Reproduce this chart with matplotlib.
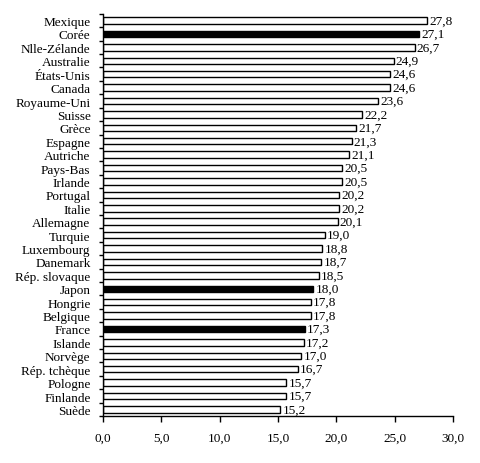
import matplotlib
matplotlib.use("Agg")
import matplotlib.pyplot as plt
import matplotlib.ticker as mticker

countries = ["Mexique", "Corée", "Nlle-Zélande", "Australie", "États-Unis",
             "Canada", "Royaume-Uni", "Suisse", "Grèce", "Espagne",
             "Autriche", "Pays-Bas", "Irlande", "Portugal", "Italie",
             "Allemagne", "Turquie", "Luxembourg", "Danemark", "Rép. slovaque",
             "Japon", "Hongrie", "Belgique", "France", "Islande",
             "Norvège", "Rép. tchèque", "Pologne", "Finlande", "Suède"]
values = [27.8, 27.1, 26.7, 24.9, 24.6, 24.6, 23.6, 22.2, 21.7, 21.3,
          21.1, 20.5, 20.5, 20.2, 20.2, 20.1, 19.0, 18.8, 18.7, 18.5,
          18.0, 17.8, 17.8, 17.3, 17.2, 17.0, 16.7, 15.7, 15.7, 15.2]
highlight = ["Corée", "Japon", "France"]
x_ticks = [0, 5, 10, 15, 20, 25, 30]


def comma_fmt(x, pos):
    return f"{x:.1f}".replace(".", ",")


def main():
    plt.rcParams['font.family'] = ['Liberation Serif', 'DejaVu Serif']
    fig = plt.figure(figsize=(4.8, 4.64), dpi=100)
    ax = fig.add_axes([0.2146, 0.101, 0.7292, 0.867])

    n = len(countries)
    ypos = list(range(n))
    colors = ["black" if c in highlight else "white" for c in countries]
    ax.barh(ypos, values, height=0.48, color=colors, edgecolor="black",
            linewidth=1.0)
    for y, v in zip(ypos, values):
        ax.text(v + 0.2, y, comma_fmt(v, None), va="center", ha="left",
                fontsize=9.5)

    ax.set_ylim(n - 0.5, -0.5)
    ax.set_xlim(0, 30)
    ax.set_yticks(ypos)
    ax.set_yticklabels(countries, fontsize=9.5)
    ax.set_yticks([i - 0.5 for i in range(n + 1)], minor=True)
    ax.tick_params(axis="y", which="major", length=0, pad=9)
    ax.tick_params(axis="y", which="minor", length=3, width=1)
    ax.set_xticks(x_ticks)
    ax.xaxis.set_major_formatter(mticker.FuncFormatter(comma_fmt))
    ax.tick_params(axis="x", length=4, width=1, pad=7, labelsize=9.5)
    for s in ["top", "right"]:
        ax.spines[s].set_visible(False)
    for s in ["left", "bottom"]:
        ax.spines[s].set_linewidth(1.0)

    fig.savefig("out.png", dpi=100)
    plt.close(fig)


if __name__ == "__main__":
    main()
